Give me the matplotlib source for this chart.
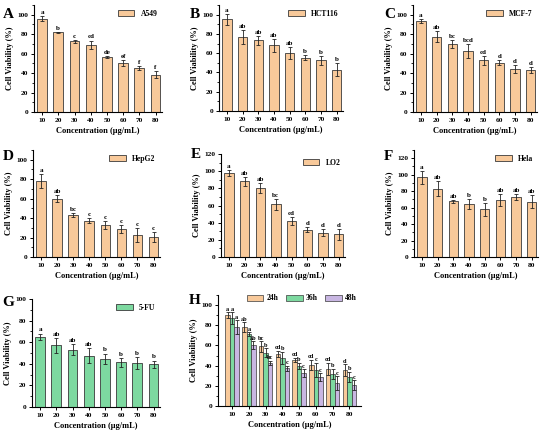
import matplotlib
matplotlib.use("Agg")
import matplotlib.pyplot as plt
import numpy as np
from matplotlib.ticker import MultipleLocator

plt.rcParams['font.family'] = ['Liberation Serif', 'DejaVu Serif']
plt.rcParams['font.weight'] = 'bold'

conc = ["10", "20", "30", "40", "50", "60", "70", "80"]

a549 = [96, 82, 72.5, 69, 56.5, 50.5, 45.5, 38.5]
a549_err = [2.5, 0.6, 1.5, 4.5, 1.0, 3.0, 2.0, 3.5]
a549_sig = ["a", "b", "c", "cd", "de", "ef", "f", "f"]

hct116 = [95, 77, 73.5, 68, 60, 55.5, 52.5, 43]
hct116_err = [6, 7, 4.5, 7, 6.5, 3, 5, 6.5]
hct116_sig = ["a", "ab", "ab", "ab", "ab", "b", "b", "b"]

mcf7 = [94, 77.5, 70, 62.5, 53, 50.5, 44, 43]
mcf7_err = [2, 5.5, 4, 7, 4.5, 2.5, 4, 3]
mcf7_sig = ["a", "ab", "bc", "bcd", "cd", "d", "d", "d"]

hepg2 = [78, 60, 43, 37.5, 32.5, 28.5, 22.5, 20.5]
hepg2_err = [7, 3.5, 2, 2.5, 4, 4, 7, 5]
hepg2_sig = ["a", "ab", "bc", "c", "c", "c", "c", "c"]

lo2 = [98, 88, 80, 61.5, 42, 32, 28.5, 26.5]
lo2_err = [3.5, 5.5, 6, 6.5, 5, 3, 4, 6.5]
lo2_sig = ["a", "ab", "ab", "bc", "cd", "d", "d", "d"]

hela = [97, 83, 67.5, 64.5, 58, 69, 73, 67]
hela_err = [8, 9, 2, 6, 8, 7, 3.5, 8]
hela_sig = ["a", "ab", "ab", "b", "b", "ab", "ab", "ab"]

fu = [65, 57, 53, 47.5, 44.5, 41.5, 40.5, 39.5]
fu_err = [3, 7, 5, 7, 5, 4, 5.5, 3.5]
fu_sig = ["a", "ab", "ab", "ab", "b", "b", "b", "b"]

h24 = [90, 78, 59, 52, 46, 41, 37, 35.5]
h24_err = [3, 5, 5, 3, 2, 5, 6, 6]
h24_sig = ["a", "ab", "bc", "cd", "cd", "cd", "cd", "d"]
h36 = [87, 71, 53, 48, 40, 36, 32, 29]
h36_err = [6, 2, 4, 6, 3, 7, 5, 5]
h36_sig = ["a", "a", "b", "b", "b", "c", "b", "b"]
h48 = [78, 60, 43, 37.5, 32.5, 28.5, 22.5, 20.5]
h48_err = [7, 4, 2, 2.5, 4, 4, 7, 5]
h48_sig = ["a", "ab", "bc", "c", "c", "c", "c", "c"]

ORANGE = "#F8C99A"
GREEN = "#7DD9A0"
PURPLE = "#C8B6E2"
EDGE = "#3a3a3a"

W, H = 550, 432
fig = plt.figure(figsize=(W / 100, H / 100), dpi=100)


def rect(l, t, r, b):
    return [l / W, 1 - b / H, (r - l) / W, (b - t) / H]


def style(ax, ymax, ystep):
    ax.set_ylim(0, ymax)
    ax.yaxis.set_major_locator(MultipleLocator(ystep))
    ax.yaxis.set_minor_locator(MultipleLocator(ystep / 2))
    for s in ["top", "right"]:
        ax.spines[s].set_visible(False)
    for s in ["left", "bottom"]:
        ax.spines[s].set_linewidth(0.8)
    ax.tick_params(axis="both", which="major", labelsize=5.3, length=2.5, width=0.7, pad=1.5)
    ax.tick_params(axis="y", which="minor", length=1.3, width=0.6)
    for lab in ax.get_xticklabels() + ax.get_yticklabels():
        lab.set_fontweight("bold")
    ax.set_ylabel("Cell Viability (%)", fontsize=6, fontweight="bold", labelpad=2.5)
    ax.set_xlabel("Concentration (μg/mL)", fontsize=6, fontweight="bold", labelpad=3)


def panel_letter(letter, lpos):
    fig.text(lpos[0] / W, 1 - lpos[1] / H, letter, fontsize=11, fontweight="bold",
             ha="left", va="center")


def single(pos, vals, errs, sig, label, color, ymax, ystep, letter, lpos):
    ax = fig.add_axes(rect(*pos))
    x = np.arange(len(conc))
    ax.bar(x, vals, width=0.6, color=color, edgecolor=EDGE, linewidth=0.6,
           yerr=errs, error_kw=dict(elinewidth=0.6, capsize=1.6, capthick=0.6, ecolor="#222222"),
           label=label)
    for xi, v, e, s in zip(x, vals, errs, sig):
        ax.text(xi, v + e + ymax * 0.01, s, ha="center", va="bottom", fontsize=5, fontweight="bold")
    ax.set_xticks(x)
    ax.set_xticklabels(conc)
    ax.set_xlim(-0.5, 7.4)
    style(ax, ymax, ystep)
    ax.legend(loc="upper right", frameon=False, handlelength=2.2, handleheight=0.9,
              borderaxespad=0.2, prop=dict(weight="bold", size=5.5))
    panel_letter(letter, lpos)
    return ax


single((34, 5, 162, 112), a549, a549_err, a549_sig, "A549", ORANGE, 110, 20, "A", (3, 14))
single((219, 5, 343, 111), hct116, hct116_err, hct116_sig, "HCT116", ORANGE, 110, 20, "B", (190, 14))
single((413, 5, 537, 112), mcf7, mcf7_err, mcf7_sig, "MCF-7", ORANGE, 110, 20, "C", (384, 14))
single((33, 150, 160, 257), hepg2, hepg2_err, hepg2_sig, "HepG2", ORANGE, 110, 20, "D", (3, 157))
single((221, 154, 345, 257), lo2, lo2_err, lo2_sig, "LO2", ORANGE, 120, 20, "E", (191, 155))
single((414, 150, 538, 257), hela, hela_err, hela_sig, "Hela", ORANGE, 130, 20, "F", (384, 157))
single((32, 299, 160, 407), fu, fu_err, fu_sig, "5-FU", GREEN, 100, 20, "G", (2, 303))

# Panel H
ax = fig.add_axes(rect(218, 295, 361, 406))
x = np.arange(len(conc))
bw = 0.27
ek = dict(elinewidth=0.6, capsize=1.3, capthick=0.6, ecolor="#222222")
series = [(h24, h24_err, h24_sig, "24h", ORANGE, -bw),
          (h36, h36_err, h36_sig, "36h", GREEN, 0),
          (h48, h48_err, h48_sig, "48h", PURPLE, bw)]
for vals, errs, sig, lab, col, off in series:
    ax.bar(x + off, vals, width=bw, color=col, edgecolor=EDGE, linewidth=0.5,
           yerr=errs, error_kw=ek, label=lab)
    for xi, v, e, s in zip(x + off, vals, errs, sig):
        ax.text(xi, v + e + 0.5, s, ha="center", va="bottom", fontsize=4.5, fontweight="bold")
ax.set_xticks(x)
ax.set_xticklabels(conc)
ax.set_xlim(-0.85, 7.7)
style(ax, 110, 20)
ax.legend(loc="upper right", ncol=3, frameon=False, handlelength=2.2, handleheight=0.9,
          columnspacing=1.0, handletextpad=0.4, borderaxespad=0.1, bbox_to_anchor=(1.0, 1.04),
          prop=dict(weight="bold", size=5.5))
panel_letter("H", (189, 300))

fig.savefig("out.png", dpi=100)
